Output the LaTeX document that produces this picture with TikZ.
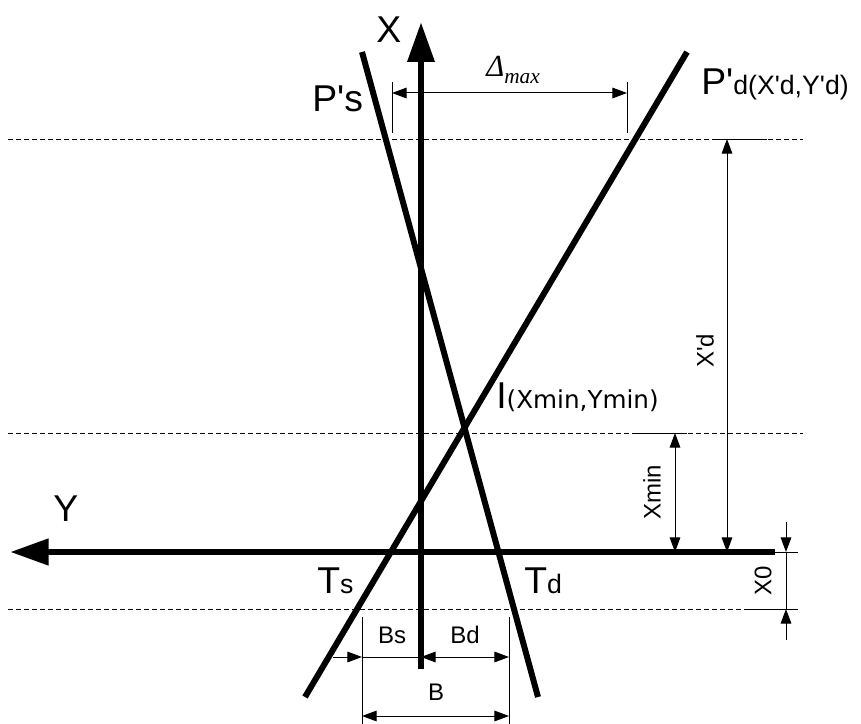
\documentclass[tikz,border=0pt]{standalone}
\usepackage{fontspec}
\setmainfont{Liberation Sans}[Ligatures=TeXOff]
\newfontfamily\dejavu{DejaVu Sans}[Ligatures=TeXOff]
\newfontfamily\serifface{Liberation Serif}
\usetikzlibrary{arrows.meta}
\tikzset{
  thickln/.style={line width=4.5pt},
  axisln/.style={line width=5pt},
  dimln/.style={line width=0.75pt},
  extln/.style={line width=0.6pt},
  guide/.style={line width=0.6pt, dash pattern=on 3.5pt off 2.5pt},
  biglbl/.style={font=\fontsize{28}{30}\selectfont, inner sep=0pt},
  smalllbl/.style={font=\fontsize{18}{20}\selectfont, inner sep=0pt},
}
\newcommand{\subsz}{\fontsize{20}{22}\selectfont}
\begin{document}
\begin{tikzpicture}[x=0.75pt,y=-0.75pt, >={Triangle[length=11pt,width=8pt]}]
\useasboundingbox (0,0) rectangle (861,724);
% guide lines
\draw[guide] (8,139) -- (803,139);
\draw[guide] (8,433) -- (803,433);
\draw[guide] (8,609) -- (775,609);
% the two lines
\coordinate (ps1) at (362,52); \coordinate (ps2) at (538,697);
\coordinate (pd1) at (687,52); \coordinate (pd2) at (305,697);
\draw[thickln] (ps1) -- (ps2);
\draw[thickln] (pd1) -- (pd2);
% Delta max
\draw[extln] (392,82) -- (392,133);
\draw[extln] (627,82) -- (627,133);
\draw[dimln,<->] (392,93) -- (627,93);
% Bs, Bd, B
\draw[dimln,->] (333,657) -- (362,657);
\draw[dimln] (362,657) -- (421,657);
\draw[dimln,<->] (421,657) -- (509,657);
\draw[extln] (362,617) -- (362,724);
\draw[extln] (509,617) -- (509,724);
\draw[dimln,<->] (362,716) -- (509,716);
% axes
\draw[axisln, -{Triangle[length=30pt,width=19.5pt]}] (421,669) -- (421,22);
\draw[axisln, -{Triangle[length=29pt,width=19pt]}] (775,552) -- (10,552);
% X'd
\draw[extln] (715,139) -- (767,139);
\draw[dimln,<->] (727,139) -- (727,552);
% Xmin
\draw[extln] (632,433) -- (687,433);
\draw[dimln,<->] (675,433) -- (675,552);
% X0
\draw[extln] (775,552) -- (798,552);
\draw[extln] (745,609) -- (798,609);
\draw[dimln,->] (786,522) -- (786,552);
\draw[dimln] (786,552) -- (786,609);
\draw[dimln,->] (786,640) -- (786,609);
% labels
\node[biglbl, anchor=base west] (lx) at (376,43) {X};
\node[biglbl, anchor=base west] (ly) at (53,521) {Y};
\node[biglbl, anchor=base west] (lps) at (312,112) {P's};
\node[biglbl, anchor=base west] (lpd) at (701,95) {P'{\subsz d(X'd,Y'd)}};
\node[biglbl, anchor=base west] (li) at (496,408) {I{\dejavu\fontsize{18.5}{20}\selectfont (Xmin,Ymin)}};
\node[biglbl, anchor=base west] (lts) at (317,593) {T{\subsz s}};
\node[biglbl, anchor=base west] (ltd) at (524,593) {T{\subsz d}};
\node[smalllbl] (lbs) at (392,635) {Bs};
\node[smalllbl] (lbd) at (465,635) {Bd};
\node[smalllbl] (lb) at (436,692) {B};
\node[smalllbl, rotate=90] (lxd) at (705,351) {X'd};
\node[smalllbl, rotate=90] (lxmin) at (652,492) {Xmin};
\node[smalllbl, rotate=90] (lx0) at (763,581) {X0};
\node[inner sep=0pt, anchor=base west] (ldm) at (486,77) {\serifface\itshape\fontsize{23}{25}\selectfont Δ\raisebox{-5pt}{\fontsize{16}{17}\selectfont max}};
\end{tikzpicture}
\end{document}
